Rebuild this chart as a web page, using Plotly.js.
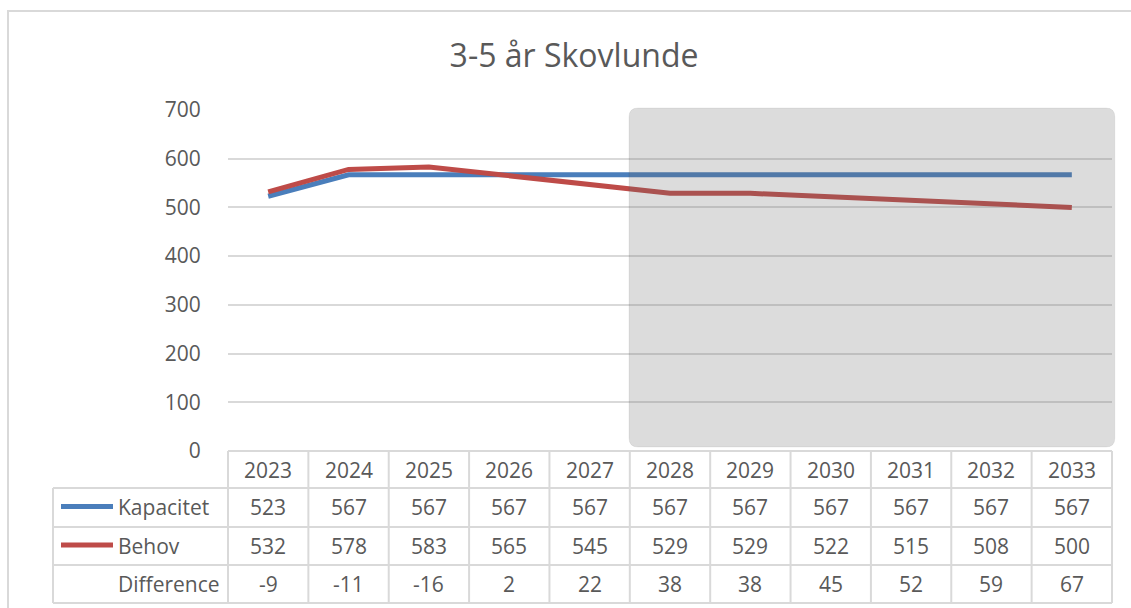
<!DOCTYPE html>
<html>
<head>
<meta charset="utf-8">
<script src="https://cdn.plot.ly/plotly-3.0.1.min.js"></script>
<style>
html,body{margin:0;padding:0;background:#fff;}
#chart{width:1131px;height:608px;}
</style>
</head>
<body>
<div id="chart"></div>
<script>
// ---- data ----
const years = ["2023","2024","2025","2026","2027","2028","2029","2030","2031","2032","2033"];
const kapacitet = [523,567,567,567,567,567,567,567,567,567,567];
const behov = [532,578,583,565,545,529,529,522,515,508,500];
const difference = [-9,-11,-16,2,22,38,38,45,52,59,67];
const seriesNames = ["Kapacitet","Behov","Difference"];
const forecastStart = "2028";

// ---- layout geometry (pixels) ----
const W = 1131, H = 608;
const L = 228, R = 1112, T = 110, B = 451;
const pw = R - L, ph = B - T;
const px = x => (x - L) / pw;          // pixel x -> paper
const py = y => (B - y) / ph;          // pixel y -> paper

const textColor = "#595959";
const gridColor = "#d9d9d9";
const fontFam = "'Open Sans', 'Noto Sans', sans-serif";
const blue = "#4a7ebb", red = "#be4b48";

const idx = years.map((_, i) => i);

const traces = [
  {x: idx, y: kapacitet, name: seriesNames[0], type: "scatter", mode: "lines",
   line: {color: blue, width: 5}, hoverinfo: "y"},
  {x: idx, y: behov, name: seriesNames[1], type: "scatter", mode: "lines",
   line: {color: red, width: 5}, hoverinfo: "y"}
];

const shapes = [];
const annotations = [];

// outer chart border
shapes.push({type: "path", xref: "paper", yref: "paper",
  path: `M ${px(8)} ${py(700)} L ${px(8)} ${py(11)} L ${px(1200)} ${py(11)}`,
  line: {color: gridColor, width: 2}});

// forecast shaded region (rounded rectangle), paper-referenced so it may overhang the plot edge
const n = years.length;
const fi = years.indexOf(forecastStart);
const x0 = (fi - 0.01) / n, x1 = (n + 0.035) / n;
const y0 = py(447), y1 = py(108);
const rx = 9 / pw, ry = 9 / ph;
shapes.push({type: "path", xref: "paper", yref: "paper", layer: "above",
  path: `M ${x0 + rx} ${y0} L ${x1 - rx} ${y0} Q ${x1} ${y0} ${x1} ${y0 + ry} L ${x1} ${y1 - ry} Q ${x1} ${y1} ${x1 - rx} ${y1} L ${x0 + rx} ${y1} Q ${x0} ${y1} ${x0} ${y1 - ry} L ${x0} ${y0 + ry} Q ${x0} ${y0} ${x0 + rx} ${y0} Z`,
  fillcolor: "rgba(106,106,106,0.235)", line: {color: "rgba(0,0,0,0.06)", width: 1}});

// data table grid
const rowLines = [451, 488, 527, 565, 603];
const tableLeft = 53;
const lineStyle = {color: gridColor, width: 2};
shapes.push({type: "line", xref: "paper", yref: "paper", x0: 0, x1: 1, y0: py(451), y1: py(451), line: lineStyle});
for (let k = 1; k < rowLines.length; k++) {
  shapes.push({type: "line", xref: "paper", yref: "paper", x0: px(tableLeft), x1: 1,
    y0: py(rowLines[k]), y1: py(rowLines[k]), line: lineStyle});
}
shapes.push({type: "line", xref: "paper", yref: "paper", x0: px(tableLeft), x1: px(tableLeft),
  y0: py(488), y1: py(603), line: lineStyle});
for (let i = 0; i <= n; i++) {
  shapes.push({type: "line", xref: "paper", yref: "paper", x0: i / n, x1: i / n,
    y0: py(451), y1: py(603), line: lineStyle});
}
// legend keys in the table
const rowCenters = [470, 507, 546, 584];
shapes.push({type: "line", xref: "paper", yref: "paper", x0: px(61), x1: px(113),
  y0: py(506.5), y1: py(506.5), line: {color: blue, width: 5}});
shapes.push({type: "line", xref: "paper", yref: "paper", x0: px(61), x1: px(113),
  y0: py(545), y1: py(545), line: {color: red, width: 5}});

const cellFont = {family: fontFam, size: 21, color: textColor};
const rows = [years, kapacitet, behov, difference];
rows.forEach((row, r) => {
  row.forEach((v, i) => {
    annotations.push({xref: "x", yref: "paper", x: i, y: py(rowCenters[r]),
      text: String(v), showarrow: false, xanchor: "center", yanchor: "middle", font: cellFont});
  });
});
seriesNames.forEach((nm, k) => {
  annotations.push({xref: "paper", yref: "paper", x: px(116), y: py(rowCenters[k + 1]),
    text: nm, showarrow: false, xanchor: "left", yanchor: "middle", font: cellFont});
});

const layout = {
  width: W, height: H,
  margin: {l: L, r: W - R, t: T, b: H - B, pad: 0},
  paper_bgcolor: "#ffffff", plot_bgcolor: "#ffffff",
  showlegend: false,
  title: {text: "3-5 år Skovlunde", xref: "container", yref: "container",
    x: 574 / W, y: 1 - 56 / H, xanchor: "center", yanchor: "middle",
    font: {family: fontFam, size: 32, color: textColor}},
  xaxis: {type: "linear", range: [-0.5, n - 0.5], showgrid: false, zeroline: false,
    showticklabels: false, ticks: "", showline: false, fixedrange: true},
  yaxis: {range: [0, 700], dtick: 100, tick0: 0, showgrid: true, gridcolor: gridColor, gridwidth: 2,
    zeroline: false, showline: false, ticks: "outside", ticklen: 22, tickcolor: "rgba(0,0,0,0)",
    tickfont: {family: fontFam, size: 21, color: textColor}, fixedrange: true},
  shapes: shapes,
  annotations: annotations,
  font: {family: fontFam, color: textColor}
};

Plotly.newPlot("chart", traces, layout, {displayModeBar: false, staticPlot: true});
</script>
</body>
</html>
